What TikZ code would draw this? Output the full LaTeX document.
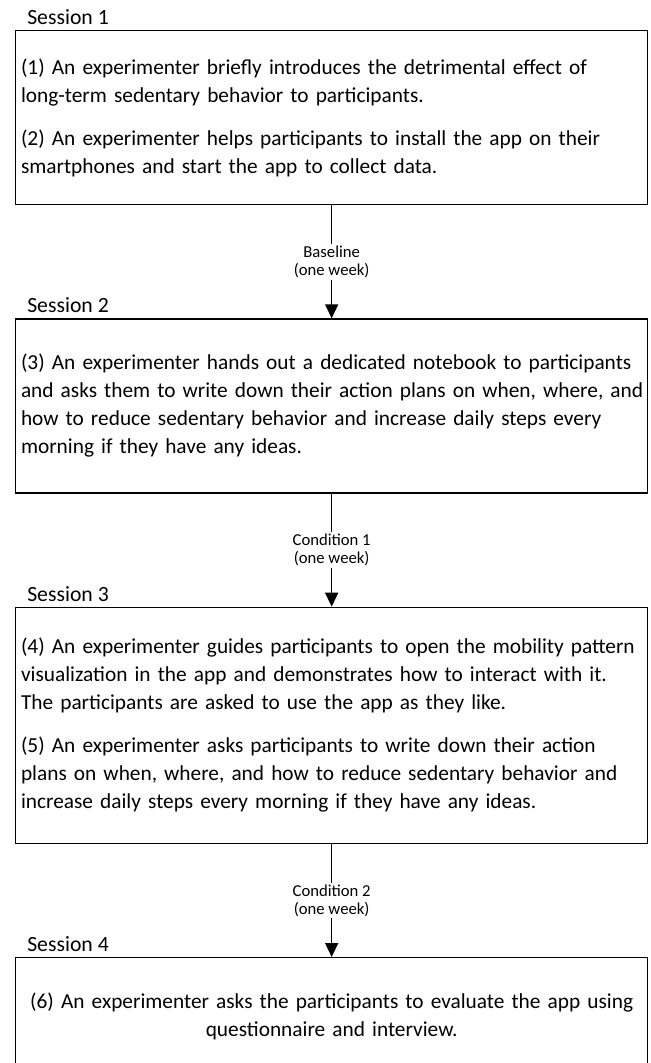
\documentclass[tikz,border=0pt]{standalone}
\usepackage{fontspec}
\setmainfont{Carlito}
\usetikzlibrary{arrows.meta,positioning}

\begin{document}
\begin{tikzpicture}[
  x=0.75pt, y=-0.75pt,
  node distance=84.75pt,
  sbox/.style={draw, line width=1pt, text width=470pt, inner xsep=2pt, inner ysep=0pt,
               align=left, font=\fontsize{16}{21}\selectfont},
  sess/.style={inner sep=0pt, font=\fontsize{16.3}{21}\selectfont},
  lbl/.style={fill=white, align=center, inner sep=1.5pt, font=\fontsize{12.5}{13.5}\selectfont},
  arr/.style={-{Triangle[width=9.75pt,length=10.5pt]}, line width=1.2pt},
]
\useasboundingbox (0,0) rectangle (650,1063);

% Session boxes
\node[sbox, minimum height=130.5pt, anchor=north west] (s1) at (15,30)
  {\hspace*{2pt}(1) An experimenter briefly introduces the detrimental effect of\\
   \hspace*{2pt}long-term sedentary behavior to participants.\\[11pt]
   \hspace*{2pt}(2) An experimenter helps participants to install the app on their\\
   \hspace*{2pt}smartphones and start the app to collect data.};
\node[sbox, minimum height=130.5pt, below=of s1] (s2)
  {\hspace*{2pt}(3) An experimenter hands out a dedicated notebook to participants\\
   \hspace*{2pt}and asks them to write down their action plans on when, where, and\\
   \hspace*{2pt}how to reduce sedentary behavior and increase daily steps every\\
   \hspace*{2pt}morning if they have any ideas.};
\node[sbox, minimum height=177pt, below=of s2] (s3)
  {\hspace*{2pt}(4) An experimenter guides participants to open the mobility pattern\\
   \hspace*{2pt}visualization in the app and demonstrates how to interact with it.\\
   \hspace*{2pt}The participants are asked to use the app as they like.\\[11pt]
   \hspace*{2pt}(5) An experimenter asks participants to write down their action\\
   \hspace*{2pt}plans on when, where, and how to reduce sedentary behavior and\\
   \hspace*{2pt}increase daily steps every morning if they have any ideas.};
\node[sbox, align=center, minimum height=88.5pt, below=of s3] (s4)
  {(6) An experimenter asks the participants to evaluate the app using\\
   questionnaire and interview.};

% Session titles
\node[sess, above right=3.75pt and 9pt of s1.north west] (t1) {Session 1};
\node[sess, above right=3.75pt and 9pt of s2.north west] (t2) {Session 2};
\node[sess, above right=3.75pt and 9pt of s3.north west] (t3) {Session 3};
\node[sess, above right=3.75pt and 9pt of s4.north west] (t4) {Session 4};

% Phases between sessions
\draw[arr] (s1) -- node[lbl] {Baseline\\(one week)} (s2);
\draw[arr] (s2) -- node[lbl] {Condition 1\\(one week)} (s3);
\draw[arr] (s3) -- node[lbl] {Condition 2\\(one week)} (s4);
\end{tikzpicture}
\end{document}
